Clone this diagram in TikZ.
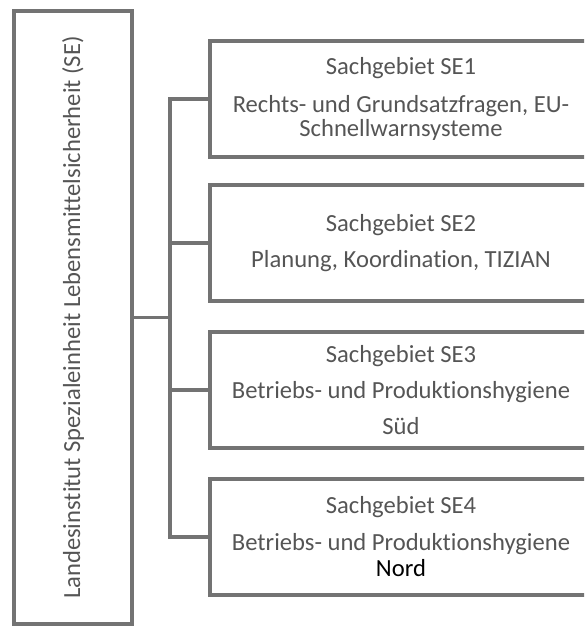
\documentclass[tikz,border=0pt]{standalone}
\usepackage{fontspec}
\setmainfont[Ligatures=NoCommon]{Carlito}
\usepackage{tikz}

\definecolor{linegray}{RGB}{115,115,115}
\definecolor{textgray}{RGB}{85,85,85}
\newcommand{\orgfont}{\fontsize{17.5}{15.3}\selectfont\lineskiplimit=-20pt\relax}

\begin{document}
\begin{tikzpicture}
\clip (0,0) rectangle (14.6,15.675);
\useasboundingbox (0,0) rectangle (14.6,15.675);

\begin{scope}[every node/.style={rectangle,draw=linegray,line width=2.8pt,
                                 text=textgray,align=center,font=\orgfont}]
    % left box is turned, so its south anchor is its right side
    \node[rotate=90, minimum width=15.325cm, minimum height=2.95cm] (lsi) at (1.825,7.7375)
        {Landesinstitut Spezialeinheit Lebensmittelsicherheit (SE)};

    \node[minimum width=9.55cm, minimum height=2.9cm] (se1) at (10.025,13.2)
        {Sachgebiet SE1\\[11.6pt]Rechts- und Grundsatzfragen, EU-\\[2pt]Schnellwarnsysteme};
    \node[minimum width=9.55cm, minimum height=2.9cm] (se2) at (10.025,9.6)
        {Sachgebiet SE2\\[10.6pt]Planung, Koordination, TIZIAN};
    \node[minimum width=9.55cm, minimum height=2.9cm] (se3) at (10.025,5.925)
        {Sachgebiet SE3\\[10.4pt]Betriebs- und Produktionshygiene\\[10pt]Süd};
    \node[minimum width=9.55cm, minimum height=2.9cm] (se4) at (10.025,2.25)
        {Sachgebiet SE4\\[10.6pt]Betriebs- und Produktionshygiene\\[3.6pt]{\color{black}Nord}};
\end{scope}

\coordinate (bus) at (4.25,0);

\begin{scope}[every path/.style={draw=linegray,line width=2.8pt}]
    \draw (se1.west) -- (se1.west -| bus) -- (se4.west -| bus) -- (se4.west);
    \draw (se2.west) -- (se2.west -| bus);
    \draw (se3.west) -- (se3.west -| bus);
    \draw (lsi.south) -- (lsi.south -| bus);
\end{scope}
\end{tikzpicture}
\end{document}
